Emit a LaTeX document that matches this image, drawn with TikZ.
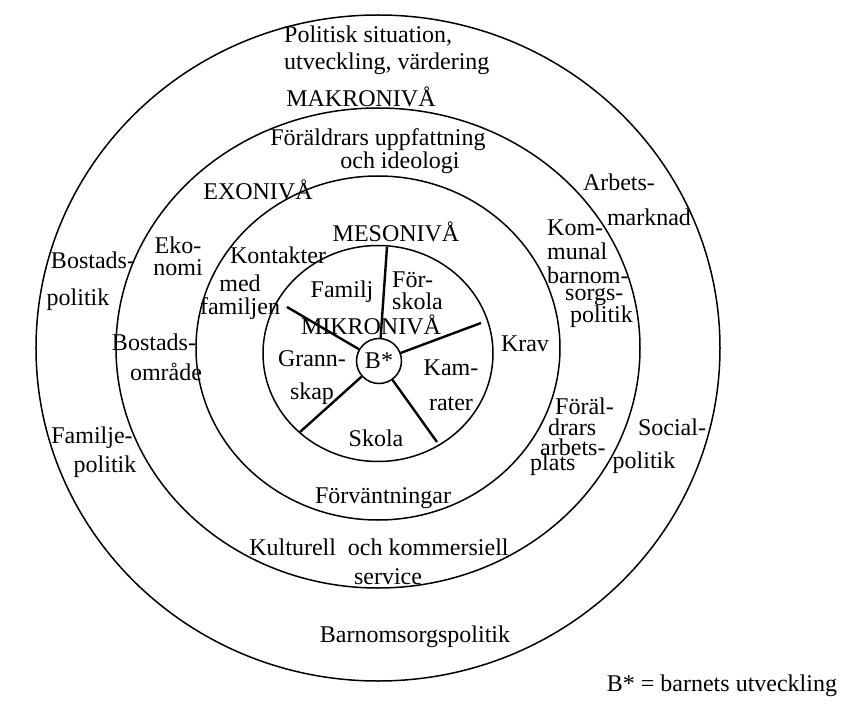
\documentclass[tikz,border=0pt]{standalone}
\usepackage{fontspec}
\setmainfont{Liberation Serif}
\usetikzlibrary{shapes,calc}
\tikzstyle{ring}=[draw, line width=1.5pt]
\tikzstyle{spoke}=[draw, line width=2.4pt]
\tikzstyle{txt}=[inner sep=0pt, align=center]

\begin{document}
\begin{tikzpicture}[x=1pt, y=1pt, font=\rmfamily\fontsize{24}{24}\selectfont]
\useasboundingbox (-378,-367) rectangle (476,348);

% levels
\draw [ring] (0,0) ellipse [x radius=342pt, y radius=333pt];
\draw [ring] (0,0) ellipse [x radius=262pt, y radius=240pt];
\draw [ring] (0,0) ellipse [x radius=182pt, y radius=172pt];
\draw [ring] (0,-5.5) ellipse [x radius=115pt, y radius=108pt];

\node (bstar) [draw, circle, line width=1.5pt, minimum size=45pt, inner sep=0pt] at (1,-13) {B*};

\coordinate (s1) at (9,101);
\coordinate (s2) at (-91,41);
\coordinate (s3) at (103,25);
\coordinate (s4) at (59,-94);
\coordinate (s5) at (-78,-84);

\draw [spoke] (bstar) -- (s1);
\draw [spoke] (bstar) -- (s2);
\draw [spoke] (bstar) -- (s3);
\draw [spoke] (bstar) -- (s4);
\draw [spoke] (bstar) -- (s5);

% makro
\node (politisk) [txt, align=left, anchor=west, font=\rmfamily\fontsize{24}{27}\selectfont] at (-94,298) {Politisk situation,\\utveckling, värdering};
\node (makro) [txt] at (-17,251) {MAKRONIVÅ};
\node (bostads) [txt] at (-285,88) {Bostads-};
\node (bpolitik) [txt] at (-300,48) {politik};
\node (familje) [txt] at (-286,-90) {Familje-};
\node (fpolitik) [txt] at (-273,-119) {politik};
\node (arbets) [txt] at (241,166) {Arbets-};
\node (marknad) [txt] at (271,131) {marknad};
\node (social) [txt] at (294,-79) {Social-};
\node (spolitik) [txt] at (266,-115) {politik};
\node (kultur) [txt] at (1,-199) {Kulturell\ \ och kommersiell};
\node (service) [txt] at (10,-229) {service};
\node (barnom) [txt] at (37,-289) {Barnomsorgspolitik};

% exo
\node (uppf) [txt] at (0,208) {Föräldrars uppfattning};
\node (ideologi) [txt] at (22,185) {och ideologi};
\node (exo) [txt] at (-120,158) {EXONIVÅ};
\node (ekonomi) [txt, font=\rmfamily\fontsize{24}{22}\selectfont] at (-200,92) {Eko-\\nomi};
\node (bomr1) [txt] at (-224,6) {Bostads-};
\node (bomr2) [txt] at (-212,-24) {område};
\node (kommunal) [txt, align=left, anchor=west] at (169,96) {Kom-\\munal\\barnom-};
\node (sorgs) [txt, anchor=west] at (187,51) {sorgs-};
\node (kpolitik) [txt, anchor=west] at (192,31) {politik};
\node (foral) [txt, anchor=west] at (177,-58) {Föräl-};
\node (drars) [txt, anchor=west] at (170,-79) {drars};
\node (arbplats1) [txt, anchor=west] at (162,-99) {arbets-};
\node (arbplats2) [txt, anchor=west] at (152,-117) {plats};
\node (forvant) [txt] at (5,-150) {Förväntningar};

% meso
\node (meso) [txt] at (18,116) {MESONIVÅ};
\node (kontakter) [txt] at (-100,93) {Kontakter};
\node (familjen) [txt, font=\rmfamily\fontsize{24}{23}\selectfont] at (-138,51) {med\\familjen};
\node (krav) [txt] at (147,4) {Krav};

% mikro
\node (mikro) [txt] at (-7,23) {MIKRONIVÅ};
\node (familj) [txt] at (-36,56) {Familj};
\node (forskola) [txt, align=left, anchor=west, font=\rmfamily\fontsize{24}{22}\selectfont] at (14,57) {För-\\skola};
\node (grannskap) [txt, font=\rmfamily\fontsize{24}{33}\selectfont] at (-66,-30) {Grann-\\skap};
\node (kamrater) [txt, font=\rmfamily\fontsize{24}{35}\selectfont] at (73,-37) {Kam-\\rater};
\node (skola) [txt] at (-2,-90) {Skola};

\node (legend) [txt] at (344,-338) {B* = barnets utveckling};

\end{tikzpicture}
\end{document}
